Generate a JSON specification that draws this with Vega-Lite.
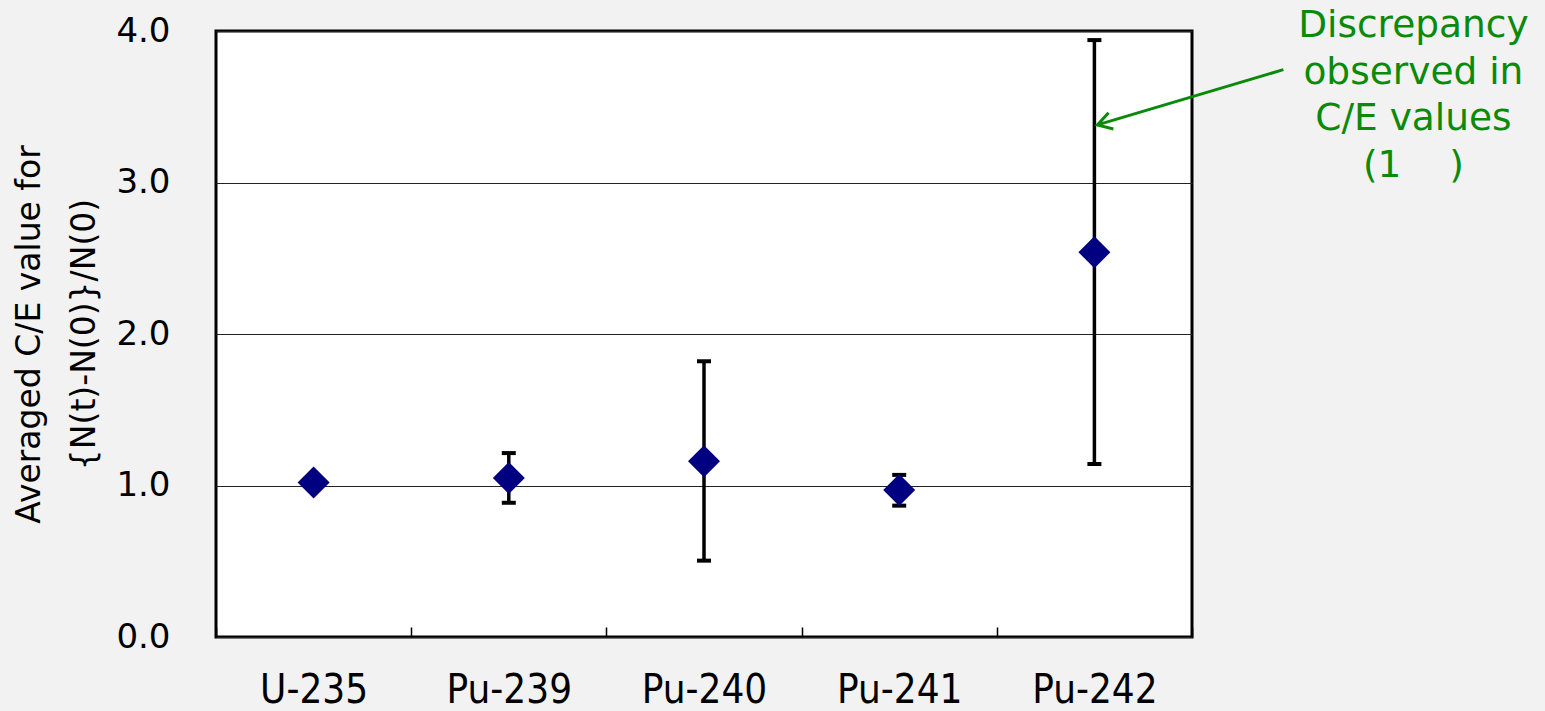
{
  "$schema": "https://vega.github.io/schema/vega-lite/v6.json",
  "width": 976,
  "height": 606,
  "autosize": {"type": "none"},
  "padding": {"left": 216, "top": 31, "right": 353, "bottom": 74},
  "background": "#f2f2f2",
  "config": {
    "view": {"fill": "white", "stroke": "black", "strokeWidth": 3},
    "font": "DejaVu Sans"
  },
  "datasets": {
    "pts": [
      {"nuclide": "U-235", "ce": 1.02, "lo": null, "hi": null},
      {"nuclide": "Pu-239", "ce": 1.05, "lo": 0.886, "hi": 1.214},
      {"nuclide": "Pu-240", "ce": 1.16, "lo": 0.504, "hi": 1.82},
      {"nuclide": "Pu-241", "ce": 0.97, "lo": 0.867, "hi": 1.07},
      {"nuclide": "Pu-242", "ce": 2.54, "lo": 1.142, "hi": 3.94}
    ],
    "note": [
      {"nuclide": "Pu-242", "tipY": 3.38, "tailY": 3.745, "textY": 3.96, "label": ["Discrepancy", "observed in", "C/E values", "(1\u00a0\u00a0\u00a0\u00a0)"]}
    ]
  },
  "layer": [
    {
      "data": {"name": "pts"},
      "transform": [{"filter": "datum.lo != null"}],
      "mark": {"type": "rule", "color": "black", "strokeWidth": 3.5},
      "encoding": {
        "x": {"field": "nuclide", "type": "nominal"},
        "y": {"field": "lo", "type": "quantitative"},
        "y2": {"field": "hi"}
      }
    },
    {
      "data": {"name": "pts"},
      "transform": [{"filter": "datum.lo != null"}],
      "mark": {"type": "tick", "color": "black", "thickness": 4, "size": 14, "orient": "horizontal", "opacity": 1},
      "encoding": {
        "x": {"field": "nuclide", "type": "nominal"},
        "y": {"field": "lo", "type": "quantitative"}
      }
    },
    {
      "data": {"name": "pts"},
      "transform": [{"filter": "datum.lo != null"}],
      "mark": {"type": "tick", "color": "black", "thickness": 4, "size": 14, "orient": "horizontal", "opacity": 1},
      "encoding": {
        "x": {"field": "nuclide", "type": "nominal"},
        "y": {"field": "hi", "type": "quantitative"}
      }
    },
    {
      "data": {"name": "pts"},
      "mark": {"type": "point", "shape": "diamond", "filled": true, "color": "#000080", "size": 1024, "opacity": 1},
      "encoding": {
        "x": {
          "field": "nuclide", "type": "nominal",
          "scale": {"domain": ["U-235", "Pu-239", "Pu-240", "Pu-241", "Pu-242"], "paddingInner": 0, "paddingOuter": 0},
          "axis": {
            "title": null, "labelAngle": 0, "labelAlign": "center", "domain": false,
            "tickBand": "extent", "tickSize": -10, "tickColor": "black", "tickWidth": 1.5,
            "labelFont": "DejaVu Sans Condensed", "labelFontSize": 40, "labelColor": "black",
            "labelPadding": 63
          }
        },
        "y": {
          "field": "ce", "type": "quantitative",
          "scale": {"domain": [0, 4], "nice": false, "zero": true},
          "axis": {
            "title": ["Averaged C/E value for", "{N(t)-N(0)}/N(0)"],
            "titleFontSize": 33, "titleFontWeight": "normal", "titleColor": "black",
            "titleLineHeight": 55, "titlePadding": 14,
            "values": [0, 1, 2, 3, 4], "format": ".1f",
            "labelFontSize": 34, "labelColor": "black", "labelPadding": 46,
            "ticks": false, "domain": false,
            "grid": true, "gridColor": "#222222", "gridWidth": 1
          }
        }
      }
    },
    {
      "data": {"name": "note"},
      "mark": {"type": "rule", "color": "#0a8a0a", "strokeWidth": 3, "xOffset": 3, "x2Offset": 189},
      "encoding": {
        "x": {"field": "nuclide", "type": "nominal"},
        "x2": {"field": "nuclide"},
        "y": {"field": "tipY", "type": "quantitative"},
        "y2": {"field": "tailY"}
      }
    },
    {
      "data": {"name": "note"},
      "mark": {"type": "point", "shape": "M1,-0.6L0,0L1,0.6", "filled": false, "stroke": "#0a8a0a", "strokeWidth": 3, "size": 800, "angle": 343.5, "xOffset": 3, "opacity": 1},
      "encoding": {
        "x": {"field": "nuclide", "type": "nominal"},
        "y": {"field": "tipY", "type": "quantitative"}
      }
    },
    {
      "data": {"name": "note"},
      "mark": {"type": "text", "color": "#0a8a0a", "fontSize": 37.5, "lineHeight": 46.5, "align": "center", "baseline": "alphabetic", "dx": 319},
      "encoding": {
        "x": {"field": "nuclide", "type": "nominal"},
        "y": {"field": "textY", "type": "quantitative"},
        "text": {"field": "label"}
      }
    }
  ]
}
